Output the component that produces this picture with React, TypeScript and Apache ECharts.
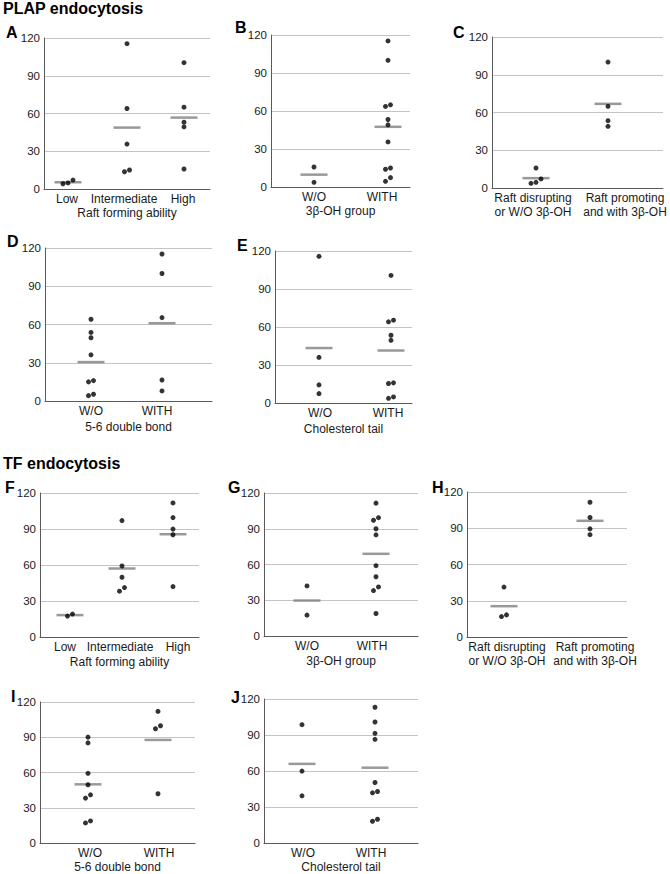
import React, { useEffect, useRef } from "react";
import * as echarts from "echarts";

// ---------- Data ----------
// PLAP endocytosis
const A_CATS = ["Low", "Intermediate", "High"];
const A_LOW = [7.1, 4.2, 4.8];
const A_INTERMEDIATE = [115.5, 64, 35.7, 13.7, 15.1];
const A_HIGH = [100.4, 65, 53.1, 49.4, 15.9];

const B_CATS = ["W/O", "WITH"];
const B_WO = [15.8, 3.7];
const B_WITH = [115.3, 100, 63.6, 64.9, 53.3, 49.1, 35.6, 14, 15, 7.4, 4.5];

const C_CATS = ["Raft disrupting\nor W/O 3β-OH", "Raft promoting\nand with 3β-OH"];
const C_DISRUPT = [15.9, 7.2, 3.7, 4.5];
const C_PROMOTE = [100.1, 64.9, 53.5, 49];

const D_CATS = ["W/O", "WITH"];
const D_WO = [64.1, 53.8, 49.6, 36.2, 15, 16, 4.2, 5.3];
const D_WITH = [115.3, 100, 65.4, 16.5, 7.9];

const E_CATS = ["W/O", "WITH"];
const E_WO = [115.8, 36, 14.3, 7.4];
const E_WITH = [100.7, 65.4, 64.1, 53.5, 49.5, 15.9, 15.4, 3.7, 4.8];

// TF endocytosis
const F_CATS = ["Low", "Intermediate", "High"];
const F_LOW = [19.1, 17.4];
const F_INTERMEDIATE = [97, 59.2, 49.8, 41.2, 38.2];
const F_HIGH = [111.7, 99.5, 89.9, 85.2, 42];

const G_CATS = ["W/O", "WITH"];
const G_WO = [42, 17.5];
const G_WITH = [111.5, 97.1, 99.3, 90, 84.9, 59, 49.7, 41.2, 38.1, 18.9];

const H_CATS = ["Raft disrupting\nor W/O 3β-OH", "Raft promoting\nand with 3β-OH"];
const H_DISRUPT = [41.3, 18.3, 16.9];
const H_PROMOTE = [111.5, 98.9, 89.5, 84.7];

const I_CATS = ["W/O", "WITH"];
const I_WO = [90.1, 85.2, 59.3, 49.6, 41, 38.2, 18.8, 17.1];
const I_WITH = [112, 97.2, 99.8, 41.9];

const J_CATS = ["W/O", "WITH"];
const J_WO = [98.6, 59.9, 39.3];
const J_WITH = [113.1, 100.8, 91.4, 86.4, 50.4, 41.8, 42.9, 19.8, 18.1];

const Y_TICKS = [0, 30, 60, 90, 120];

const SECTION_TITLES = ["PLAP endocytosis", "TF endocytosis"];

// ---------- Layout ----------
type Panel = {
  letter: string;
  grid: [number, number, number, number]; // left, top, width, height
  cats: string[];
  groups: number[][];
  pointX: number[];
  labelX: number[];
  title: string;
  nameGap: number;
  letterXY: [number, number];
};

const PANELS: Panel[] = [
  { letter: "A", grid: [44, 38, 166, 151], cats: A_CATS, groups: [A_LOW, A_INTERMEDIATE, A_HIGH], pointX: [68, 127, 184], labelX: [67, 124, 183], title: "Raft forming ability", nameGap: 17, letterXY: [6, 32] },
  { letter: "B", grid: [271, 35, 139, 152], cats: B_CATS, groups: [B_WO, B_WITH], pointX: [314, 388], labelX: [314, 382], title: "3β-OH group", nameGap: 18, letterXY: [235, 27] },
  { letter: "C", grid: [492, 37, 171, 151], cats: C_CATS, groups: [C_DISRUPT, C_PROMOTE], pointX: [536, 608], labelX: [533, 625], title: "", nameGap: 18, letterXY: [453, 32] },
  { letter: "D", grid: [45, 248, 167, 153], cats: D_CATS, groups: [D_WO, D_WITH], pointX: [91, 162], labelX: [91, 157], title: "5-6 double bond", nameGap: 20, letterXY: [7, 241] },
  { letter: "E", grid: [275, 251, 137, 152], cats: E_CATS, groups: [E_WO, E_WITH], pointX: [319, 391], labelX: [320, 388], title: "Cholesterol tail", nameGap: 20, letterXY: [237, 245] },
  { letter: "F", grid: [40, 493, 159, 144], cats: F_CATS, groups: [F_LOW, F_INTERMEDIATE, F_HIGH], pointX: [70, 122, 173], labelX: [65, 120, 178], title: "Raft forming ability", nameGap: 19, letterXY: [5, 487] },
  { letter: "G", grid: [264, 493, 154, 143], cats: G_CATS, groups: [G_WO, G_WITH], pointX: [307, 376], labelX: [307, 372], title: "3β-OH group", nameGap: 19, letterXY: [228, 487] },
  { letter: "H", grid: [467, 492, 160, 145], cats: H_CATS, groups: [H_DISRUPT, H_PROMOTE], pointX: [504, 590], labelX: [507, 595], title: "", nameGap: 19, letterXY: [432, 487] },
  { letter: "I", grid: [40, 702, 155, 141], cats: I_CATS, groups: [I_WO, I_WITH], pointX: [88, 158], labelX: [90, 159], title: "5-6 double bond", nameGap: 17, letterXY: [11, 696] },
  { letter: "J", grid: [264, 699, 154, 144], cats: J_CATS, groups: [J_WO, J_WITH], pointX: [302, 375], labelX: [303, 371], title: "Cholesterol tail", nameGap: 17, letterXY: [231, 697] },
];

const FONT = "'Liberation Sans', Arial, Helvetica, sans-serif";
const TEXT = "#1a1a1a";
const AXIS = "#5a5a5a";
const GRIDLINE = "#c4c4c4";
const MEAN = "#808080";

// horizontal pixel offsets for points with near-equal values (so they sit side by side)
function jitter(values: number[], step = 5, thr = 3.3): number[] {
  const order = values.map((_, i) => i).sort((a, b) => values[a] - values[b]);
  const off = new Array(values.length).fill(0);
  let cluster: number[] = [];
  const flush = () => {
    const n = cluster.length;
    cluster.forEach((id, k) => (off[id] = (k - (n - 1) / 2) * step));
    cluster = [];
  };
  order.forEach((id) => {
    if (cluster.length && values[id] - values[cluster[cluster.length - 1]] >= thr) flush();
    cluster.push(id);
  });
  flush();
  return off;
}

const mean = (a: number[]) => a.reduce((s, v) => s + v, 0) / a.length;

function buildOption() {
  const grid: any[] = [];
  const xAxis: any[] = [];
  const yAxis: any[] = [];
  const series: any[] = [];
  const graphic: any[] = [];

  PANELS.forEach((p, i) => {
    const [left, top, width, height] = p.grid;
    grid.push({ left, top, width, height, containLabel: false });
    const labelFr = p.labelX.map((x) => (x - left) / width);
    const pointFr = p.pointX.map((x) => (x - left) / width);
    xAxis.push({
      gridIndex: i,
      type: "value",
      min: 0,
      max: 1,
      splitLine: { show: false },
      axisTick: { show: false },
      axisLine: { show: true, onZero: false, lineStyle: { color: AXIS, width: 1 } },
      axisLabel: {
        customValues: labelFr,
        formatter: (v: number) => {
          const k = labelFr.findIndex((f) => Math.abs(f - v) < 1e-6);
          return k >= 0 ? p.cats[k] : "";
        },
        fontFamily: FONT,
        fontSize: 12,
        color: TEXT,
        margin: 3,
        lineHeight: 14,
      },
      name: p.title,
      nameLocation: "middle",
      nameGap: p.nameGap,
      nameTextStyle: { fontFamily: FONT, fontSize: 12, color: TEXT },
    });
    yAxis.push({
      gridIndex: i,
      type: "value",
      min: Y_TICKS[0],
      max: Y_TICKS[Y_TICKS.length - 1],
      interval: Y_TICKS[1] - Y_TICKS[0],
      axisLine: { show: true, lineStyle: { color: AXIS, width: 1 } },
      axisTick: { show: false },
      splitLine: { show: true, lineStyle: { color: GRIDLINE, width: 1 } },
      axisLabel: { fontFamily: FONT, fontSize: 11.5, color: TEXT, margin: 4 },
    });

    const pts: any[] = [];
    const means: any[] = [];
    p.groups.forEach((vals, g) => {
      const off = jitter(vals);
      vals.forEach((v, k) => pts.push([pointFr[g] + off[k] / width, v]));
      means.push([pointFr[g], mean(vals)]);
    });
    series.push({
      type: "scatter",
      xAxisIndex: i,
      yAxisIndex: i,
      data: means,
      symbol: "rect",
      symbolSize: [27, 2.5],
      itemStyle: { color: MEAN },
      z: 2,
      silent: true,
    });
    series.push({
      type: "scatter",
      xAxisIndex: i,
      yAxisIndex: i,
      data: pts,
      symbol: "circle",
      symbolSize: 5,
      itemStyle: { color: "#000" },
      z: 3,
      silent: true,
    });

    graphic.push({
      type: "text",
      x: p.letterXY[0],
      y: p.letterXY[1],
      style: {
        text: p.letter,
        font: `bold 16px ${FONT}`,
        fill: "#000",
        textVerticalAlign: "middle",
        verticalAlign: "middle",
      },
    });
  });

  graphic.push({
    type: "text",
    x: 3,
    y: 8,
    style: { text: SECTION_TITLES[0], font: `bold 16px ${FONT}`, fill: "#000", textVerticalAlign: "middle", verticalAlign: "middle" },
  });
  graphic.push({
    type: "text",
    x: 3,
    y: 463,
    style: { text: SECTION_TITLES[1], font: `bold 16px ${FONT}`, fill: "#000", textVerticalAlign: "middle", verticalAlign: "middle" },
  });

  return {
    animation: false,
    backgroundColor: "#ffffff",
    textStyle: { fontFamily: FONT },
    grid,
    xAxis,
    yAxis,
    series,
    graphic,
  };
}

export default function App() {
  const ref = useRef<HTMLDivElement>(null);
  useEffect(() => {
    if (!ref.current) return;
    const chart = echarts.init(ref.current, null, { renderer: "svg" });
    chart.setOption(buildOption() as any);
    return () => chart.dispose();
  }, []);
  return (
    <div
      ref={ref}
      style={{ position: "absolute", left: 0, top: 0, width: 670, height: 874, background: "#fff" }}
    />
  );
}
